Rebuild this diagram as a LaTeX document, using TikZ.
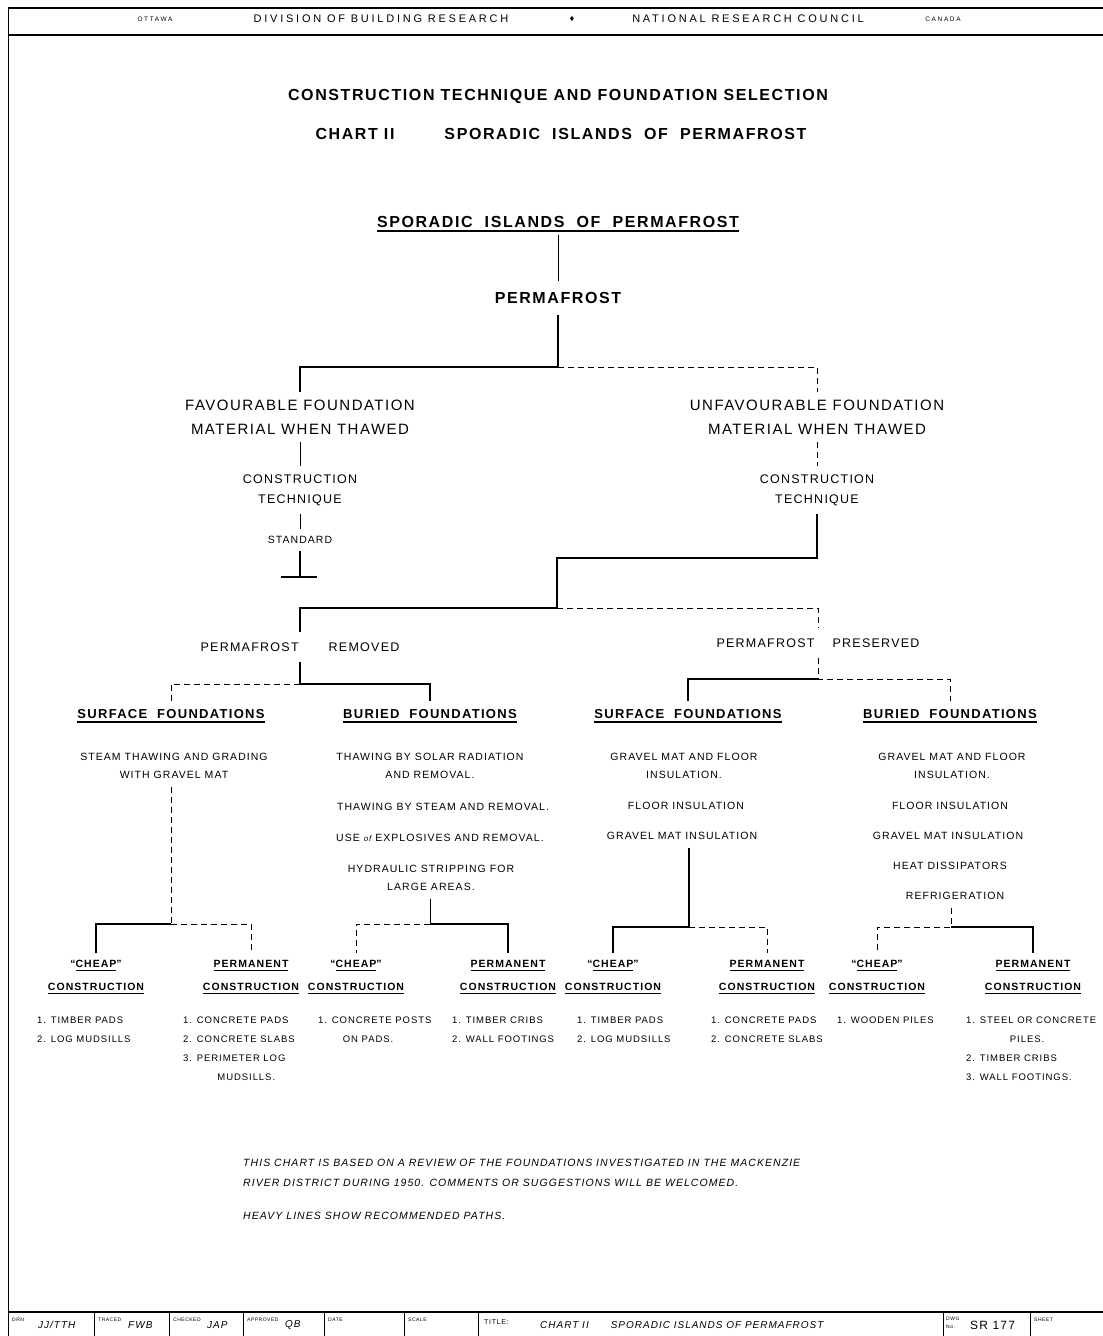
\documentclass[tikz,border=0pt]{standalone}
\usepackage{fontspec}
\setmainfont{Liberation Sans}
\newfontfamily\hand{Liberation Sans}[LetterSpace=10]
\newfontfamily\wide{Liberation Sans}[LetterSpace=25]
\newfontfamily\symb{DejaVu Sans}
\usetikzlibrary{calc}

% underline drawn as a rule under the lettering
\newcommand\undl[1]{\setbox0=\hbox{#1}\rlap{\rule[-4pt]{\wd0}{1.3pt}}\box0}

\tikzset{
  heavyline/.style={line width=2.2pt},
  thinline/.style={line width=0.9pt},
  dashline/.style={line width=1pt, dash pattern=on 6pt off 4pt},
  titletxt/.style={font=\hand\bfseries\fontsize{16}{19}\selectfont, inner sep=2pt},
  bigtxt/.style={font=\hand\bfseries\fontsize{16}{19}\selectfont, inner sep=3pt},
  midtxt/.style={font=\hand\fontsize{15}{24}\selectfont, align=center, inner sep=3pt, outer ysep=5pt},
  subtxt/.style={font=\hand\fontsize{12.5}{20}\selectfont, align=center, inner sep=3pt, outer ysep=5pt},
  headtxt/.style={font=\hand\bfseries\fontsize{13}{16}\selectfont, inner sep=3pt, outer ysep=5pt},
  itemtxt/.style={font=\hand\fontsize{10.5}{18}\selectfont, align=center, inner sep=2pt, outer ysep=6pt},
  kindtxt/.style={font=\hand\bfseries\fontsize{10.5}{23}\selectfont, align=center, inner sep=2pt, outer ysep=5pt},
  listtxt/.style={font=\hand\fontsize{9.5}{19}\selectfont, align=left, anchor=north west, inner sep=0pt},
  notetxt/.style={font=\hand\itshape\fontsize{10.5}{20}\selectfont, anchor=west, inner sep=0pt},
  bandtxt/.style={font=\wide\fontsize{11}{13}\selectfont, inner sep=0pt},
  tinytxt/.style={font=\hand\fontsize{5}{6}\selectfont, inner sep=0pt, anchor=west},
  handtxt/.style={font=\hand\itshape\fontsize{10}{12}\selectfont, inner sep=0pt, anchor=west},
}

\begin{document}
\begin{tikzpicture}[x=1pt, y=-1pt]
\useasboundingbox (0,0) rectangle (1103,1336);

% sheet border and title band
\draw[line width=1.5pt] (8,8) -- (1103,8);
\draw[line width=1.5pt] (8,35) -- (1103,35);
\draw[thinline] (8,8) -- (8,1336);
\node[bandtxt, font=\wide\fontsize{6.5}{7}\selectfont] (ottawa) at (155,19) {OTTAWA};
\node[bandtxt] (dbr) at (381,19) {DIVISION OF BUILDING RESEARCH};
\node[bandtxt, font=\symb\fontsize{7}{8}\selectfont] (dot) at (572,19) {♦};
\node[bandtxt] (nrc) at (748,19) {NATIONAL RESEARCH COUNCIL};
\node[bandtxt, font=\wide\fontsize{6.5}{7}\selectfont] (canada) at (943,19) {CANADA};

% titles
\node[titletxt] (title1) at (558,96) {CONSTRUCTION TECHNIQUE AND FOUNDATION SELECTION};
\node[titletxt] (title2) at (561,134) {CHART II\hspace{50pt}SPORADIC\ \ ISLANDS\ \ OF\ \ PERMAFROST};

% top of chart
\node[bigtxt] (islands) at (558,224) {\undl{SPORADIC\ \ ISLANDS\ \ OF\ \ PERMAFROST}};
\node[bigtxt, outer ysep=8pt] (perm) at (558,298) {PERMAFROST};
\draw[thinline] (islands.south) -- (perm.north);

\node[midtxt] (fav) at (300,417) {FAVOURABLE FOUNDATION\\MATERIAL WHEN THAWED};
\node[midtxt] (unfav) at (817,417) {UNFAVOURABLE FOUNDATION\\MATERIAL WHEN THAWED};
\coordinate (j0) at (558,367);
\draw[heavyline] (perm.south) -- (j0) -| (fav.north);
\draw[dashline] (j0) -| (unfav.north);

% favourable side
\node[subtxt] (tech1) at (300,490) {CONSTRUCTION\\TECHNIQUE};
\node[itemtxt, outer ysep=5pt] (std) at (300,540) {STANDARD};
\coordinate (tee) at (300,577);
\draw[thinline] (fav.south) -- (tech1.north);
\draw[thinline] (tech1.south) -- (std.north);
\draw[heavyline] (std.south) -- (tee);
\draw[heavyline] ($(tee)+(-19,0)$) -- ($(tee)+(17,0)$);

% unfavourable side
\node[subtxt] (tech2) at (817,490) {CONSTRUCTION\\TECHNIQUE};
\draw[dashline] (unfav.south) -- (tech2.north);
\node[subtxt, outer ysep=8pt] (removed) at (300,647) {PERMAFROST\hspace{30pt}REMOVED};
\node[subtxt, outer ysep=8pt] (preserved) at (818,643) {PERMAFROST\hspace{18pt}PRESERVED};
\coordinate (j1) at (557,558);
\coordinate (j2) at (557,608);
\draw[heavyline] (tech2.south) |- (j1) -- (j2) -| (removed.north);
\draw[dashline] (j2) -| (preserved.north);

% foundation types
\node[headtxt] (surf1) at (171,716) {\undl{SURFACE\ \ FOUNDATIONS}};
\node[headtxt] (bur1) at (430,716) {\undl{BURIED\ \ FOUNDATIONS}};
\node[headtxt] (surf2) at (688,716) {\undl{SURFACE\ \ FOUNDATIONS}};
\node[headtxt] (bur2) at (950,716) {\undl{BURIED\ \ FOUNDATIONS}};
\coordinate (j3) at (300,684);
\draw[heavyline] (removed.south) -- (j3) -| (bur1.north);
\draw[dashline] (j3) -| (surf1.north);
\coordinate (j4) at (818,679);
\draw[dashline] (preserved.south) -- (j4) -| (bur2.north);
\draw[heavyline] (j4) -| (surf2.north);

% techniques
\node[itemtxt] (s1a) at (174,766) {STEAM THAWING AND GRADING\\WITH GRAVEL MAT};
\node[itemtxt] (b1a) at (430,766) {THAWING BY SOLAR RADIATION\\AND REMOVAL.};
\node[itemtxt] (b1b) at (443,807) {THAWING BY STEAM AND REMOVAL.};
\node[itemtxt] (b1c) at (440,838) {USE {\itshape\fontsize{8}{8}\selectfont of} EXPLOSIVES AND REMOVAL.};
\node[itemtxt] (b1d) at (431,878) {HYDRAULIC STRIPPING FOR\\LARGE AREAS.};
\node[itemtxt] (s2a) at (684,766) {GRAVEL MAT AND FLOOR\\INSULATION.};
\node[itemtxt] (s2b) at (686,806) {FLOOR INSULATION};
\node[itemtxt] (s2c) at (682,836) {GRAVEL MAT INSULATION};
\node[itemtxt] (b2a) at (952,766) {GRAVEL MAT AND FLOOR\\INSULATION.};
\node[itemtxt] (b2b) at (950,806) {FLOOR INSULATION};
\node[itemtxt] (b2c) at (948,836) {GRAVEL MAT INSULATION};
\node[itemtxt] (b2d) at (950,866) {HEAT DISSIPATORS};
\node[itemtxt] (b2e) at (955,896) {REFRIGERATION};

% construction kinds
\node[kindtxt] (cheap1) at (96,977) {“\undl{CHEAP}”\\\undl{CONSTRUCTION}};
\node[kindtxt] (perm1) at (251,977) {\undl{PERMANENT}\\\undl{CONSTRUCTION}};
\node[kindtxt] (cheap2) at (356,977) {“\undl{CHEAP}”\\\undl{CONSTRUCTION}};
\node[kindtxt] (perm2) at (508,977) {\undl{PERMANENT}\\\undl{CONSTRUCTION}};
\node[kindtxt] (cheap3) at (613,977) {“\undl{CHEAP}”\\\undl{CONSTRUCTION}};
\node[kindtxt] (perm3) at (767,977) {\undl{PERMANENT}\\\undl{CONSTRUCTION}};
\node[kindtxt] (cheap4) at (877,977) {“\undl{CHEAP}”\\\undl{CONSTRUCTION}};
\node[kindtxt] (perm4) at (1033,977) {\undl{PERMANENT}\\\undl{CONSTRUCTION}};

\coordinate (j5) at (171,924);
\draw[dashline] (j5 |- s1a.south) -- (j5);
\draw[heavyline] (j5) -| (cheap1.north);
\draw[dashline] (j5) -| (perm1.north);
\coordinate (j6) at (430,924);
\draw[thinline] (j6 |- b1d.south) -- (j6);
\draw[dashline] (j6) -| (cheap2.north);
\draw[heavyline] (j6) -| (perm2.north);
\coordinate (j7) at (689,927);
\draw[heavyline] (j7 |- s2c.south) -- (j7) -| (cheap3.north);
\draw[dashline] (j7) -| (perm3.north);
\coordinate (j8) at (951,927);
\draw[dashline] (j8 |- b2e.south) -- (j8) -| (cheap4.north);
\draw[heavyline] (j8) -| (perm4.north);

% foundation lists
\node[listtxt] (list1) at (37,1017) {1. TIMBER PADS\\2. LOG MUDSILLS};
\node[listtxt] (list2) at (183,1017) {1. CONCRETE PADS\\2. CONCRETE SLABS\\3. PERIMETER LOG\\\hspace*{3.6em}MUDSILLS.};
\node[listtxt] (list3) at (318,1017) {1. CONCRETE POSTS\\\hspace*{2.6em}ON PADS.};
\node[listtxt] (list4) at (452,1017) {1. TIMBER CRIBS\\2. WALL FOOTINGS};
\node[listtxt] (list5) at (577,1017) {1. TIMBER PADS\\2. LOG MUDSILLS};
\node[listtxt] (list6) at (711,1017) {1. CONCRETE PADS\\2. CONCRETE SLABS};
\node[listtxt] (list7) at (837,1017) {1. WOODEN PILES};
\node[listtxt] (list8) at (966,1017) {1. STEEL OR CONCRETE\\\hspace*{4.6em}PILES.\\2. TIMBER CRIBS\\3. WALL FOOTINGS.};

% remarks
\node[notetxt] (note1) at (243,1163) {THIS CHART IS BASED ON A REVIEW OF THE FOUNDATIONS INVESTIGATED IN THE MACKENZIE};
\node[notetxt] (note2) at (243,1183) {RIVER DISTRICT DURING 1950. COMMENTS OR SUGGESTIONS WILL BE WELCOMED.};
\node[notetxt] (note3) at (243,1216) {HEAVY LINES SHOW RECOMMENDED PATHS.};

% drawing title block
\draw[line width=1.2pt] (8,1312) -- (1103,1312);
\foreach \x in {94,169,243,324,404,478,943,1030}
  \draw[thinline] (\x,1312) -- (\x,1336);
\node[tinytxt] (drn) at (12,1320) {DRN};
\node[handtxt] (drnby) at (38,1325) {JJ/TTH};
\node[tinytxt] (trc) at (98,1320) {TRACED};
\node[handtxt] (trcby) at (128,1325) {FWB};
\node[tinytxt] (chk) at (173,1320) {CHECKED};
\node[handtxt] (chkby) at (207,1325) {JAP};
\node[tinytxt] (app) at (247,1320) {APPROVED};
\node[handtxt] (appby) at (285,1325) {QB};
\node[tinytxt] (date) at (328,1320) {DATE};
\node[tinytxt] (scale) at (408,1320) {SCALE};
\node[tinytxt, font=\hand\fontsize{7}{8}\selectfont] (ttl) at (484,1322) {TITLE:};
\node[handtxt] (ttltxt) at (540,1325) {CHART II\hspace{22pt}SPORADIC ISLANDS OF PERMAFROST};
\node[tinytxt] (dwg) at (946,1319) {DWG};
\node[tinytxt] (dwgn) at (946,1327) {No.};
\node[handtxt, font=\hand\fontsize{12}{14}\selectfont] (dwgno) at (970,1325) {SR 177};
\node[tinytxt] (sheet) at (1034,1320) {SHEET};
\end{tikzpicture}
\end{document}
